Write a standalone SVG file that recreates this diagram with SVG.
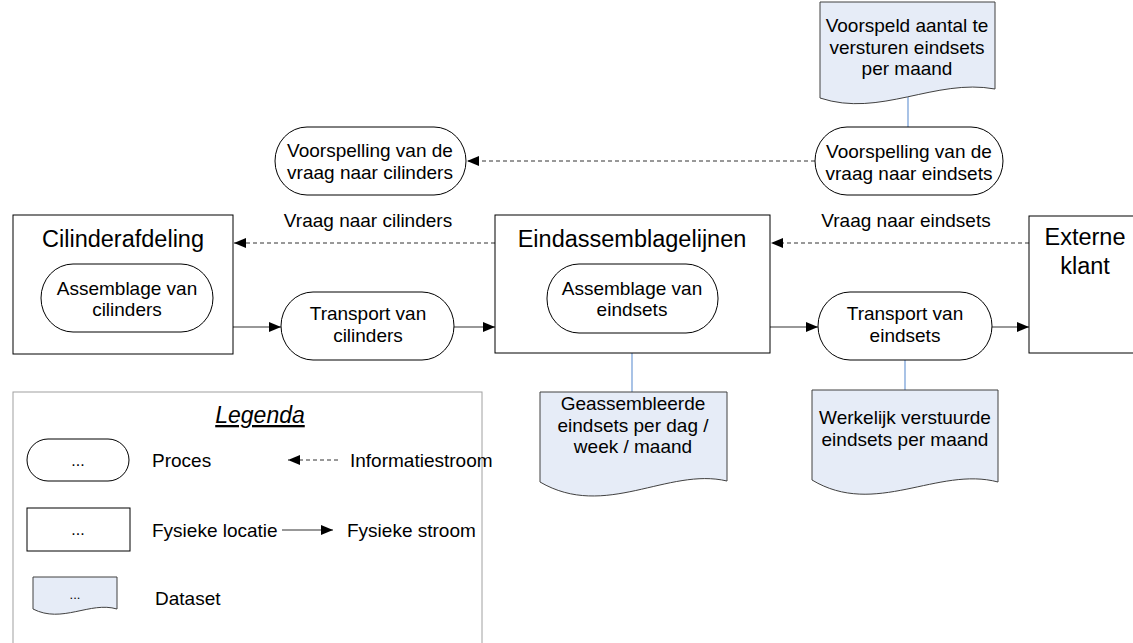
<svg xmlns="http://www.w3.org/2000/svg" width="1133" height="643" viewBox="0 0 1133 643">
  <defs>
    <style>
      text { font-family: "Liberation Sans", Arial, sans-serif; font-size: 19px; fill: #000; }
      .c { text-anchor: middle; }
      .title { font-size: 23.5px; }
      .legtitle { font-size: 23px; font-style: italic; text-decoration: underline; }
      .dots { font-size: 16px; }
      .box { fill: #fff; stroke: #000; stroke-width: 1; }
      .proc { fill: #fff; stroke: #000; stroke-width: 1; }
      .doc { fill: #E6ECF7; stroke: #404040; stroke-width: 1; }
      .phys { stroke: #333; stroke-width: 1.2; fill: none; }
      .info { stroke: #333; stroke-width: 1; stroke-dasharray: 4 3; fill: none; }
      .link { stroke: #6F9AD6; stroke-width: 1.2; fill: none; }
      .legend { fill: #fff; stroke: #A0A0A0; stroke-width: 1; }
    </style>
    <marker id="arrow" viewBox="0 0 12 10" refX="12" refY="5" markerWidth="12" markerHeight="10" markerUnits="userSpaceOnUse" orient="auto">
      <path d="M0,0 L12,5 L0,10 z" fill="#000"/>
    </marker>
  </defs>

  <!-- Legend frame -->
  <g id="legenda">
    <rect class="legend" x="13" y="392" width="469" height="270"/>
    <text class="legtitle c" x="260" y="423">Legenda</text>
    <rect class="proc" x="27" y="439" width="102" height="42" rx="21" ry="21"/>
    <text class="dots c" x="78" y="466">...</text>
    <text x="152" y="467">Proces</text>
    <line class="info" x1="338" y1="460" x2="288" y2="460" marker-end="url(#arrow)"/>
    <text x="350" y="467">Informatiestroom</text>
    <rect class="box" x="27" y="508" width="103" height="43"/>
    <text class="dots c" x="78" y="535">...</text>
    <text x="152" y="537">Fysieke locatie</text>
    <line class="phys" x1="282" y1="530" x2="333" y2="530" marker-end="url(#arrow)"/>
    <text x="347" y="537">Fysieke stroom</text>
    <path class="doc" d="M33,577 H117 V609 C90,601 62,624 33,609 Z"/>
    <text class="dots c" x="75" y="599" style="font-size:13px">...</text>
    <text x="155" y="605">Dataset</text>
  </g>

  <!-- Connectors -->
  <g id="connectors">
    <line class="link" x1="908" y1="97" x2="908" y2="127"/>
    <line class="link" x1="632" y1="333" x2="632" y2="392"/>
    <line class="link" x1="905" y1="360" x2="905" y2="390"/>
    <line class="info" x1="815" y1="161" x2="467" y2="161" marker-end="url(#arrow)"/>
    <line class="info" x1="495" y1="243" x2="234" y2="243" marker-end="url(#arrow)"/>
    <line class="info" x1="1029" y1="243" x2="771" y2="243" marker-end="url(#arrow)"/>
    <line class="phys" x1="233" y1="327" x2="281" y2="327" marker-end="url(#arrow)"/>
    <line class="phys" x1="454" y1="327" x2="495" y2="327" marker-end="url(#arrow)"/>
    <line class="phys" x1="770" y1="327" x2="818" y2="327" marker-end="url(#arrow)"/>
    <line class="phys" x1="992" y1="327" x2="1029" y2="327" marker-end="url(#arrow)"/>
    <text class="c" x="368" y="227">Vraag naar cilinders</text>
    <text class="c" x="906" y="227">Vraag naar eindsets</text>
  </g>

  <!-- Forecast dataset -->
  <g id="voorspeld-aantal">
    <path class="doc" d="M820,2 H995 V89 C935,78 880,118 820,98 Z"/>
    <text class="c" x="907" y="32">Voorspeld aantal te</text>
    <text class="c" x="907" y="54">versturen eindsets</text>
    <text class="c" x="907" y="75">per maand</text>
  </g>

  <g id="voorspelling-eindsets">
    <rect class="proc" x="815" y="127" width="188" height="68" rx="32" ry="34"/>
    <text class="c" x="909" y="158">Voorspelling van de</text>
    <text class="c" x="909" y="180">vraag naar eindsets</text>
  </g>

  <g id="voorspelling-cilinders">
    <rect class="proc" x="275" y="127" width="191" height="68" rx="32" ry="34"/>
    <text class="c" x="370" y="157">Voorspelling van de</text>
    <text class="c" x="370" y="179">vraag naar cilinders</text>
  </g>

  <g id="cilinderafdeling">
    <rect class="box" x="13" y="215" width="220" height="139"/>
    <text class="title c" x="123" y="247">Cilinderafdeling</text>
    <rect class="proc" x="41" y="264" width="172" height="68" rx="32" ry="34"/>
    <text class="c" x="127" y="295">Assemblage van</text>
    <text class="c" x="127" y="316">cilinders</text>
  </g>

  <g id="transport-cilinders">
    <rect class="proc" x="281" y="292" width="173" height="68" rx="32" ry="34"/>
    <text class="c" x="368" y="320">Transport van</text>
    <text class="c" x="368" y="342">cilinders</text>
  </g>

  <g id="eindassemblagelijnen">
    <rect class="box" x="495" y="215" width="275" height="138"/>
    <text class="title c" x="632" y="247">Eindassemblagelijnen</text>
    <rect class="proc" x="547" y="264" width="171" height="69" rx="32" ry="34"/>
    <text class="c" x="632" y="295">Assemblage van</text>
    <text class="c" x="632" y="316">eindsets</text>
  </g>

  <g id="geassembleerde-eindsets">
    <path class="doc" d="M540,392 H727 V481 C668,467 605,520 540,482 Z"/>
    <text class="c" x="633" y="410">Geassembleerde</text>
    <text class="c" x="633" y="432">eindsets per dag /</text>
    <text class="c" x="633" y="453">week / maand</text>
  </g>

  <g id="transport-eindsets">
    <rect class="proc" x="818" y="292" width="174" height="68" rx="32" ry="34"/>
    <text class="c" x="905" y="320">Transport van</text>
    <text class="c" x="905" y="342">eindsets</text>
  </g>

  <g id="werkelijk-verstuurd">
    <path class="doc" d="M812,390 H998 V482 C938,466 875,518 812,480 Z"/>
    <text class="c" x="905" y="424">Werkelijk verstuurde</text>
    <text class="c" x="905" y="446">eindsets per maand</text>
  </g>

  <g id="externe-klant">
    <rect class="box" x="1029" y="216" width="112" height="137"/>
    <text class="title c" x="1085" y="245">Externe</text>
    <text class="title c" x="1085" y="274">klant</text>
  </g>
</svg>
